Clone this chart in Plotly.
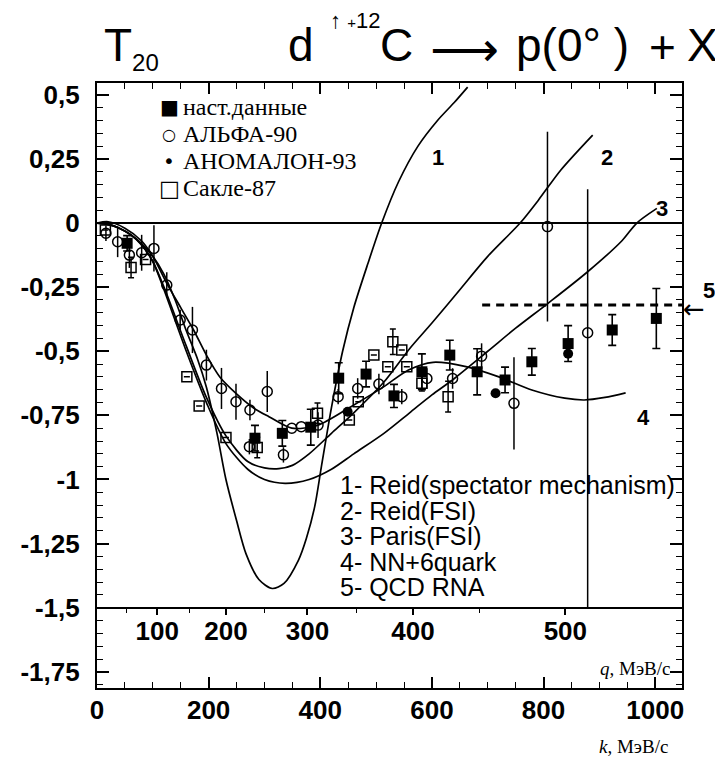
import plotly.graph_objects as go

# ---------------- data ----------------
# theoretical curves (k in MeV/c, T20)
reid_spect_k = [0, 20, 40, 60, 80, 100, 120, 140, 160, 180, 196, 215, 231, 250, 267, 290, 314, 335, 361, 375, 390, 402, 420, 440, 460, 485, 510, 540, 575, 610, 640, 664]
reid_spect_t20 = [0.0, -0.005, -0.02, -0.045, -0.08, -0.13, -0.2, -0.3, -0.42, -0.53, -0.64, -0.82, -1.0, -1.16, -1.29, -1.39, -1.425, -1.405, -1.314, -1.23, -1.106, -0.95, -0.72, -0.50, -0.33, -0.16, 0.0, 0.16, 0.30, 0.40, 0.47, 0.53]

reid_fsi_k = [0, 20, 40, 60, 80, 100, 120, 160, 196, 231, 270, 300, 326, 350, 380, 420, 460, 514, 560, 600, 650, 700, 758, 791, 831, 888]
reid_fsi_t20 = [0.0, -0.005, -0.02, -0.045, -0.085, -0.15, -0.25, -0.48, -0.68, -0.83, -0.93, -0.955, -0.958, -0.945, -0.9, -0.82, -0.74, -0.62, -0.49, -0.39, -0.26, -0.13, 0.0, 0.09, 0.207, 0.343]

paris_fsi_k = [0, 20, 40, 60, 80, 100, 120, 160, 196, 231, 270, 300, 337, 380, 420, 460, 514, 560, 600, 638, 700, 750, 808, 879, 940, 967, 1003]
paris_fsi_t20 = [0.0, -0.005, -0.02, -0.045, -0.085, -0.15, -0.26, -0.50, -0.70, -0.86, -0.96, -1.0, -1.015, -1.0, -0.96, -0.9, -0.82, -0.74, -0.67, -0.61, -0.5, -0.41, -0.313, -0.19, -0.07, 0.0, 0.057]

nn6q_k = [0, 20, 50, 80, 100, 125, 150, 173, 196, 220, 249, 280, 308, 349, 396, 455, 514, 558, 602, 661, 720, 779, 838, 873, 910, 947]
nn6q_t20 = [0.0, 0.005, -0.02, -0.07, -0.13, -0.235, -0.33, -0.417, -0.515, -0.6, -0.664, -0.72, -0.755, -0.80, -0.788, -0.716, -0.638, -0.573, -0.543, -0.56, -0.6, -0.651, -0.683, -0.69, -0.68, -0.662]

qcd_k = [690, 1048]
qcd_t20 = [-0.32, -0.32]

# experimental data
present_k = [54, 283, 332, 383, 433, 482, 532, 582, 632, 681, 731, 779, 844, 923, 1002]
present_t20 = [-0.079, -0.839, -0.82, -0.796, -0.605, -0.589, -0.674, -0.58, -0.515, -0.58, -0.612, -0.541, -0.47, -0.417, -0.372]
present_err = [0.03, 0.05, 0.05, 0.07, 0.06, 0.05, 0.045, 0.07, 0.058, 0.09, 0.05, 0.052, 0.07, 0.06, 0.117]

alpha_k = [16, 37, 58, 80, 102, 125, 149, 171, 196, 223, 249, 274, 305, 273, 334, 349, 366, 396, 432, 467, 505, 546, 591, 637, 689, 747, 807, 879]
alpha_t20 = [-0.04, -0.073, -0.125, -0.116, -0.099, -0.242, -0.378, -0.417, -0.554, -0.645, -0.697, -0.729, -0.657, -0.872, -0.904, -0.80, -0.794, -0.788, -0.677, -0.645, -0.628, -0.677, -0.606, -0.606, -0.519, -0.703, -0.014, -0.428]
alpha_err_plus = [0.03, 0.06, 0.05, 0.07, 0.09, 0.05, 0.04, 0.09, 0.06, 0.08, 0.07, 0.04, 0.08, 0.03, 0.03, 0.0, 0.0, 0.05, 0.03, 0.04, 0.04, 0.03, 0.04, 0.04, 0.05, 0.18, 0.37, 0.56]
alpha_err_minus = [0.03, 0.06, 0.05, 0.07, 0.09, 0.05, 0.04, 0.09, 0.06, 0.08, 0.07, 0.04, 0.08, 0.03, 0.03, 0.0, 0.0, 0.05, 0.03, 0.04, 0.04, 0.03, 0.04, 0.04, 0.05, 0.18, 0.37, 1.07]

anomalon_k = [449, 714, 844]
anomalon_t20 = [-0.736, -0.664, -0.51]

saclay_k = [15, 61, 87, 161, 183, 231, 287, 395, 452, 468, 496, 521, 530, 546, 555, 582, 629]
saclay_t20 = [-0.027, -0.173, -0.142, -0.599, -0.713, -0.836, -0.875, -0.742, -0.768, -0.697, -0.515, -0.56, -0.463, -0.495, -0.56, -0.625, -0.677]
saclay_err = [0, 0.04, 0, 0, 0, 0, 0.04, 0.04, 0, 0, 0, 0, 0.05, 0, 0, 0.03, 0.06]

# axes ticks
k_ticks = [0, 200, 400, 600, 800, 1000]
y_ticks = [0.5, 0.25, 0, -0.25, -0.5, -0.75, -1, -1.25, -1.5, -1.75]
y_ticktext = ["0,5", "0,25", "0", "-0,25", "-0,5", "-0,75", "-1", "-1,25", "-1,5", "-1,75"]
q_labels = ["100", "200", "300", "400", "500"]
q_label_k = [108, 231, 377, 566, 839]
q_minor_k = [53, 166, 300, 464, 686]

series_names = ["наст.данные", "АЛЬФА-90", "АНОМАЛОН-93", "Сакле-87"]
series_symbols = ["■", "○", "•", "□"]
curve_legend = ["1- Reid(spectator mechanism)", "2- Reid(FSI)", "3- Paris(FSI)", "4- NN+6quark", "5- QCD RNA"]

# ---------------- figure ----------------
OFF = 8                      # page body margin
W, H = 723 - OFF, 763 - OFF  # figure size
SL, ST, SR, SB = 89, 83, 682, 688   # plot frame in screen pixels
L, T = SL - OFF, ST - OFF
PW, PH = SR - SL, SB - ST
R, B = W - L - PW, H - T - PH
X_RANGE = [0, 1048]
Y_RANGE = [-1.813, 0.546]


def px(x):
    return (x - SL) / PW


def py(y):
    return (SB - y) / PH


fig = go.Figure()

line_style = dict(color="black", width=1.7, shape="spline", smoothing=0.8)
for kk, tt in [(reid_spect_k, reid_spect_t20), (reid_fsi_k, reid_fsi_t20),
               (paris_fsi_k, paris_fsi_t20), (nn6q_k, nn6q_t20)]:
    fig.add_trace(go.Scatter(x=kk, y=tt, mode="lines", line=line_style,
                             showlegend=False, hoverinfo="skip"))

fig.add_trace(go.Scatter(x=qcd_k, y=qcd_t20, mode="lines",
                         line=dict(color="black", width=3, dash="8px,6px"),
                         showlegend=False))

fig.add_trace(go.Scatter(
    x=present_k, y=present_t20, mode="markers", name=series_names[0], showlegend=False,
    marker=dict(symbol="square", size=11, color="black"),
    error_y=dict(type="data", array=present_err, color="black", thickness=1.6, width=4)))

fig.add_trace(go.Scatter(
    x=alpha_k, y=alpha_t20, mode="markers", name=series_names[1], showlegend=False,
    marker=dict(symbol="circle-open", size=10, color="black", line=dict(width=1.5)),
    error_y=dict(type="data", array=alpha_err_plus, arrayminus=alpha_err_minus,
                 color="black", thickness=1.5, width=0)))

fig.add_trace(go.Scatter(
    x=anomalon_k, y=anomalon_t20, mode="markers", name=series_names[2], showlegend=False,
    marker=dict(symbol="circle", size=10, color="black")))

fig.add_trace(go.Scatter(
    x=saclay_k, y=saclay_t20, mode="markers", name=series_names[3], showlegend=False,
    marker=dict(symbol="square-open", size=10, color="black", line=dict(width=1.5)),
    error_y=dict(type="data", array=saclay_err, color="black", thickness=1.5, width=3)))

# q axis carrier (invisible trace on xaxis2)
fig.add_trace(go.Scatter(x=q_label_k, y=[None] * len(q_label_k), xaxis="x2",
                         mode="markers", showlegend=False, hoverinfo="skip"))

tickfont = dict(family="Liberation Sans", size=26, color="black", weight="bold")

fig.update_layout(
    width=W, height=H,
    margin=dict(l=L, r=R, t=T, b=B),
    paper_bgcolor="white", plot_bgcolor="white",
    showlegend=False,
    xaxis=dict(range=X_RANGE, showgrid=False, zeroline=False,
               showline=True, linecolor="black", linewidth=2.2, mirror="ticks",
               ticks="inside", ticklen=11, tickwidth=1.5, tickcolor="black",
               tickmode="array", tickvals=k_ticks, ticktext=[str(v) for v in k_ticks],
               minor=dict(dtick=50, ticks="inside", ticklen=6, tickwidth=1.2, tickcolor="black"),
               tickfont=tickfont, ticklabelstandoff=-2),
    xaxis2=dict(range=X_RANGE, overlaying="x", anchor="free", side="bottom",
                position=(-1.5 - Y_RANGE[0]) / (Y_RANGE[1] - Y_RANGE[0]),
                showgrid=False, zeroline=False, showline=True, linecolor="black", linewidth=1.6,
                ticks="outside", ticklen=6, tickwidth=1.5, tickcolor="black",
                tickmode="array", tickvals=q_label_k, ticktext=q_labels,
                minor=dict(tickmode="array", tickvals=q_minor_k, ticks="outside", ticklen=4,
                           tickwidth=1.2, tickcolor="black"),
                tickfont=tickfont, ticklabelstandoff=-6),
    yaxis=dict(range=Y_RANGE, showgrid=False, zeroline=True, zerolinecolor="black", zerolinewidth=1.6,
               showline=True, linecolor="black", linewidth=2.2, mirror="ticks",
               ticks="inside", ticklen=12, tickwidth=1.5, tickcolor="black",
               tickmode="array", tickvals=y_ticks, ticktext=y_ticktext,
               minor=dict(dtick=0.05, ticks="inside", ticklen=6, tickwidth=1.2, tickcolor="black"),
               tickfont=tickfont, ticklabelstandoff=10),
)

ann = []
tf = dict(family="Liberation Sans", size=46, color="black")
ann.append(dict(text="T<sub><span style='font-size:24px'>20</span></sub>", x=px(94), y=py(48),
                xanchor="left", yanchor="middle", font=tf))
ann.append(dict(text="d", x=px(281), y=py(45), xanchor="left", yanchor="middle", font=tf))
ann.append(dict(text="↑ <span style='font-size:15px'>+</span>12", x=px(323), y=py(21),
                xanchor="left", yanchor="middle",
                font=dict(family="Liberation Sans", size=22, color="black")))
ann.append(dict(text="C", x=px(374), y=py(45), xanchor="left", yanchor="middle", font=tf))
ann.append(dict(text="⟶", x=px(462), y=py(49), xanchor="center", yanchor="middle",
                font=dict(family="DejaVu Sans", size=48, color="black")))
ann.append(dict(text="p(0° )", x=px(512), y=py(45), xanchor="left", yanchor="middle", font=tf))
ann.append(dict(text="+", x=px(662), y=py(47), xanchor="center", yanchor="middle", font=tf))
ann.append(dict(text="X", x=px(703), y=py(45), xanchor="center", yanchor="middle", font=tf))

# data key (top-left)
key_font = dict(family="Liberation Serif", size=24, color="black")
sym_sizes = [20, 16, 20, 22]
for i, (sym, name) in enumerate(zip(series_symbols, series_names)):
    yy = 107 + 27 * i
    ann.append(dict(text=sym, x=px(162), y=py(yy), xanchor="center", yanchor="middle",
                    font=dict(family="DejaVu Sans", size=sym_sizes[i], color="black")))
    ann.append(dict(text=name, x=px(174), y=py(yy), xanchor="left", yanchor="middle", font=key_font))

# curve numbers
num_font = dict(family="Liberation Sans", size=22, color="black", weight="bold")
for txt, kx, ty in [("1", 611, 0.257), ("2", 913, 0.257), ("3", 1012, 0.058), ("4", 979, -0.76)]:
    ann.append(dict(text=txt, x=kx, y=ty, xref="x", yref="y", showarrow=False, font=num_font))
ann.append(dict(text="5", x=px(717), y=py(290), font=num_font))
ann.append(dict(text="←", x=px(707), y=py(309), font=dict(family="DejaVu Sans", size=26, color="black")))

# curve legend text
leg_font = dict(family="Liberation Sans", size=25, color="black")
for i, txt in enumerate(curve_legend):
    ann.append(dict(text=txt, x=px(333), y=py(485 + 25.5 * i), xanchor="left", yanchor="middle",
                    font=leg_font))

ax_font = dict(family="Liberation Serif", size=19, color="black")
ann.append(dict(text="<i>q</i>, МэВ/с", x=px(672), y=py(668), xanchor="right", yanchor="middle", font=ax_font))
ann.append(dict(text="<i>k</i>, МэВ/с", x=px(670), y=py(746), xanchor="right", yanchor="middle", font=ax_font))

for a in ann:
    a.setdefault("xref", "paper")
    a.setdefault("yref", "paper")
    a.setdefault("showarrow", False)
fig.update_layout(annotations=ann)

fig.write_html("out.html")
